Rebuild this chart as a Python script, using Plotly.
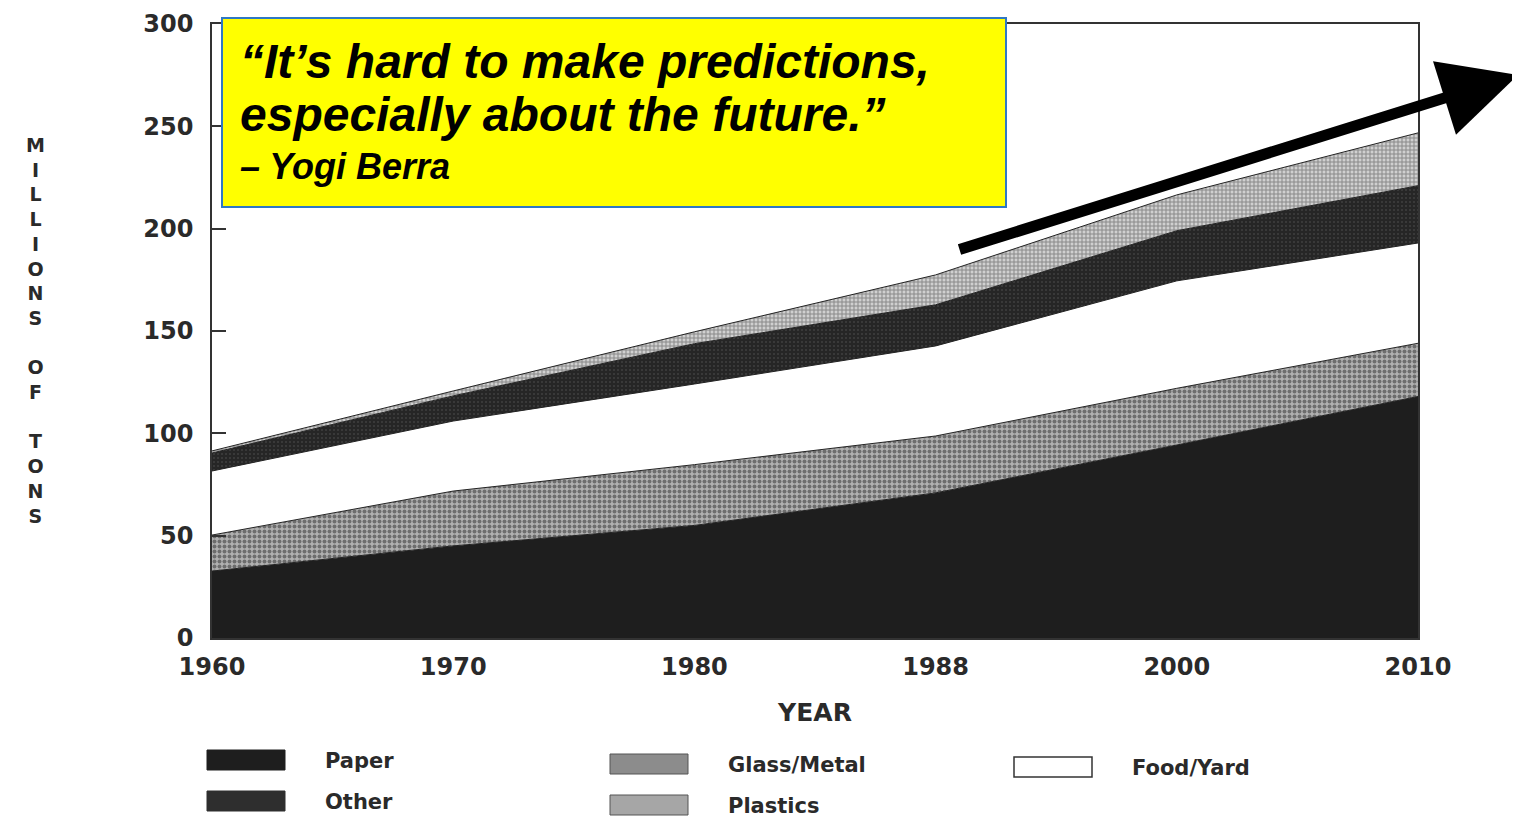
import plotly.graph_objects as go

# municipal solid waste generation, millions of tons
years = ['1960', '1970', '1980', '1988', '2000', '2010']
paper = [32.7, 45.0, 55.0, 70.9, 94.3, 118.0]
glass_metal = [17.6, 26.8, 29.7, 27.8, 27.7, 26.0]
food_yard = [31.3, 34.2, 39.4, 44.0, 52.5, 49.0]
other = [8.8, 12.3, 19.7, 20.1, 24.5, 28.0]
plastics = [1.0, 2.4, 5.8, 14.6, 17.5, 25.8]

y_ticks = [0, 50, 100, 150, 200, 250, 300]

# page body has an 8px margin, so the figure is a bit smaller than the window
OFF = 8
W, H = 1520 - OFF, 819 - OFF
L, R, T, B = 212 - OFF, 102, 24 - OFF, 181
ink = '#2a2a2a'
font_scan = 'DejaVu Sans'


def px_x(px):
    # reference-picture pixel -> paper coordinate
    return (px - OFF - L) / (W - L - R)


def px_y(py):
    return (H - B - (py - OFF)) / (H - T - B)


fig = go.Figure()

series = [
    ('Paper', paper, dict(fillcolor='#1e1e1e')),
    ('Glass/Metal', glass_metal, dict(fillcolor='#b0b0b0',
        fillpattern=dict(shape='.', fgcolor='#2a2a2a', bgcolor='#b0b0b0', size=5, solidity=0.5))),
    ('Food/Yard', food_yard, dict(fillcolor='#ffffff')),
    ('Other', other, dict(fillcolor='#2c2c2c',
        fillpattern=dict(shape='.', fgcolor='#555555', bgcolor='#262626', size=4, solidity=0.2))),
    ('Plastics', plastics, dict(fillcolor='#c8c8c8',
        fillpattern=dict(shape='+', fgcolor='#444444', bgcolor='#d0d0d0', size=4, solidity=0.45))),
]

for name, vals, style in series:
    fig.add_trace(go.Scatter(x=years, y=vals, name=name, mode='lines', stackgroup='msw',
                             line=dict(color='#222222', width=1), showlegend=False, **style))

fig.update_layout(
    width=W, height=H,
    margin=dict(l=L, r=R, t=T, b=B, autoexpand=False),
    plot_bgcolor='white', paper_bgcolor='white',
    font=dict(family=font_scan, color=ink),
    xaxis=dict(type='category', range=[0, 5], showgrid=False, zeroline=False,
               showline=True, linecolor='#333333', linewidth=1.5, mirror=True,
               ticks='', ticklabelstandoff=6, automargin=False,
               tickfont=dict(family=font_scan, size=24, color=ink, weight='bold'),
               title=dict(text='YEAR', standoff=24,
                          font=dict(family=font_scan, size=25, color=ink, weight='bold'))),
    yaxis=dict(range=[0, 300], tickvals=y_ticks, showgrid=False, zeroline=False,
               showline=True, linecolor='#333333', linewidth=1.5, mirror=True,
               ticks='inside', ticklen=14, tickwidth=1.5, tickcolor='#333333',
               ticklabelstandoff=12, automargin=False,
               tickfont=dict(family=font_scan, size=24, color=ink, weight='bold')),
)

# stacked-letter y title
ytitle = '<br>'.join(list('MILLIONS') + [''] + list('OF') + [''] + list('TONS'))
fig.add_annotation(text='<b>' + ytitle + '</b>', xref='paper', yref='paper',
                   x=px_x(35), y=px_y(330), xanchor='center', yanchor='middle',
                   showarrow=False, font=dict(family=font_scan, size=19, color=ink))

# legend drawn by hand, like the printed figure
legend_items = [
    ('Paper', 207, 750, dict(fillcolor='#1e1e1e', line=dict(color='#1e1e1e', width=1))),
    ('Other', 207, 791, dict(fillcolor='#2e2e2e', line=dict(color='#2e2e2e', width=1))),
    ('Glass/Metal', 610, 754, dict(fillcolor='#8c8c8c', line=dict(color='#555555', width=1))),
    ('Plastics', 610, 795, dict(fillcolor='#a6a6a6', line=dict(color='#555555', width=1))),
    ('Food/Yard', 1014, 757, dict(fillcolor='#ffffff', line=dict(color='#333333', width=1.5))),
]
for label, bx, by, style in legend_items:
    fig.add_shape(type='rect', xref='paper', yref='paper',
                  x0=px_x(bx), x1=px_x(bx + 78), y0=px_y(by), y1=px_y(by + 20), **style)
    fig.add_annotation(text='<b>' + label + '</b>', xref='paper', yref='paper',
                       x=px_x(bx + 116), y=px_y(by + 11), xanchor='left', yanchor='middle',
                       showarrow=False, font=dict(family=font_scan, size=21, color=ink))

# yellow quote box
fig.add_shape(type='rect', xref='paper', yref='paper', layer='above',
              x0=px_x(222), x1=px_x(1006), y0=px_y(207), y1=px_y(18),
              fillcolor='#ffff00', line=dict(color='#2f78c4', width=2))
quote_lines = [
    ('“It’s hard to make predictions,', 61, 48),
    ('especially about the future.”', 115, 48),
    ('– Yogi Berra', 166, 36),
]
for txt, cy, size in quote_lines:
    fig.add_annotation(text='<b><i>' + txt + '</i></b>', xref='paper', yref='paper',
                       x=px_x(238), y=px_y(cy), xanchor='left', yanchor='middle',
                       showarrow=False,
                       font=dict(family='Liberation Sans', size=size, color='black'))

# trend arrow
fig.add_annotation(text='', xref='paper', yref='paper', x=px_x(1518), y=px_y(75),
                   ax=958 - 1518, ay=250 - 75, showarrow=True,
                   arrowhead=2, arrowsize=1.4, arrowwidth=11, arrowcolor='black')

fig.write_html('out.html')
